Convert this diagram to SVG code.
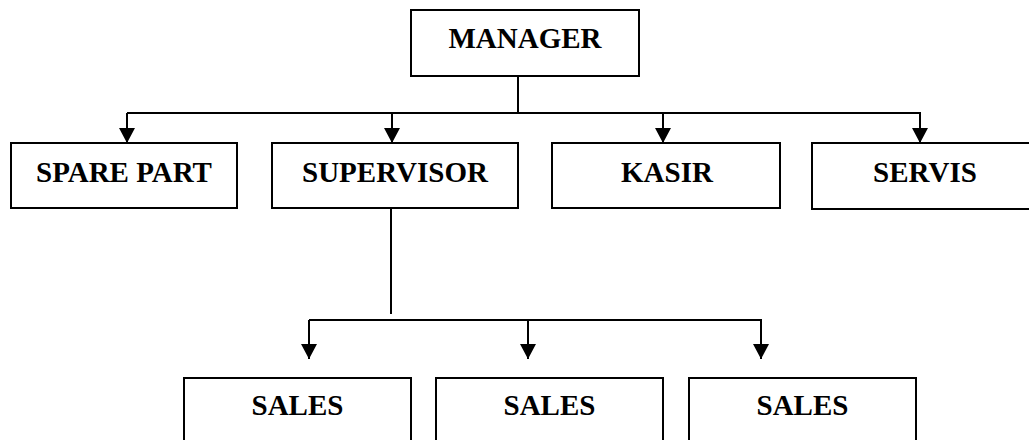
<svg xmlns="http://www.w3.org/2000/svg" width="1029" height="440" viewBox="0 0 1029 440">
<style>
.box{fill:#fff;stroke:#000;stroke-width:2}
.lbl{font-family:"Liberation Serif","Times New Roman",serif;font-weight:bold;font-size:29px;text-anchor:middle;fill:#000}
.ln{fill:none;stroke:#000;stroke-width:2}
</style>
<defs>
<marker id="ah" markerUnits="userSpaceOnUse" markerWidth="16" markerHeight="16" viewBox="0 0 16 16" refX="15" refY="8" orient="auto">
<path d="M0,0 L15,8 L0,16 Z" fill="#000"/>
</marker>
</defs>
<rect width="1029" height="440" fill="#fff"/>
<g id="connectors">
<path class="ln" d="M518,76 V113 M127,113 H921"/>
<path class="ln" d="M127,113 V143" marker-end="url(#ah)"/>
<path class="ln" d="M392,113 V143" marker-end="url(#ah)"/>
<path class="ln" d="M663,113 V143" marker-end="url(#ah)"/>
<path class="ln" d="M920,113 V143" marker-end="url(#ah)"/>
<path class="ln" d="M391,208 V314 M309,320 H762"/>
<path class="ln" d="M309,320 V359" marker-end="url(#ah)"/>
<path class="ln" d="M528,320 V359" marker-end="url(#ah)"/>
<path class="ln" d="M761,320 V359" marker-end="url(#ah)"/>
</g>
<g id="manager"><rect class="box" x="411" y="10" width="228" height="66"/><text class="lbl" x="525" y="48">MANAGER</text></g>
<g id="sparepart"><rect class="box" x="11" y="143" width="226" height="65"/><text class="lbl" x="124" y="182">SPARE PART</text></g>
<g id="supervisor"><rect class="box" x="272" y="143" width="246" height="65"/><text class="lbl" x="395" y="182">SUPERVISOR</text></g>
<g id="kasir"><rect class="box" x="552" y="143" width="228" height="65"/><text class="lbl" x="667" y="182">KASIR</text></g>
<g id="servis"><rect class="box" x="812" y="143" width="226" height="66"/><text class="lbl" x="925" y="182">SERVIS</text></g>
<g id="sales1"><rect class="box" x="184" y="378" width="227" height="70"/><text class="lbl" x="297.5" y="415">SALES</text></g>
<g id="sales2"><rect class="box" x="436" y="378" width="227" height="70"/><text class="lbl" x="549.5" y="415">SALES</text></g>
<g id="sales3"><rect class="box" x="689" y="378" width="227" height="70"/><text class="lbl" x="802.5" y="415">SALES</text></g>
</svg>
